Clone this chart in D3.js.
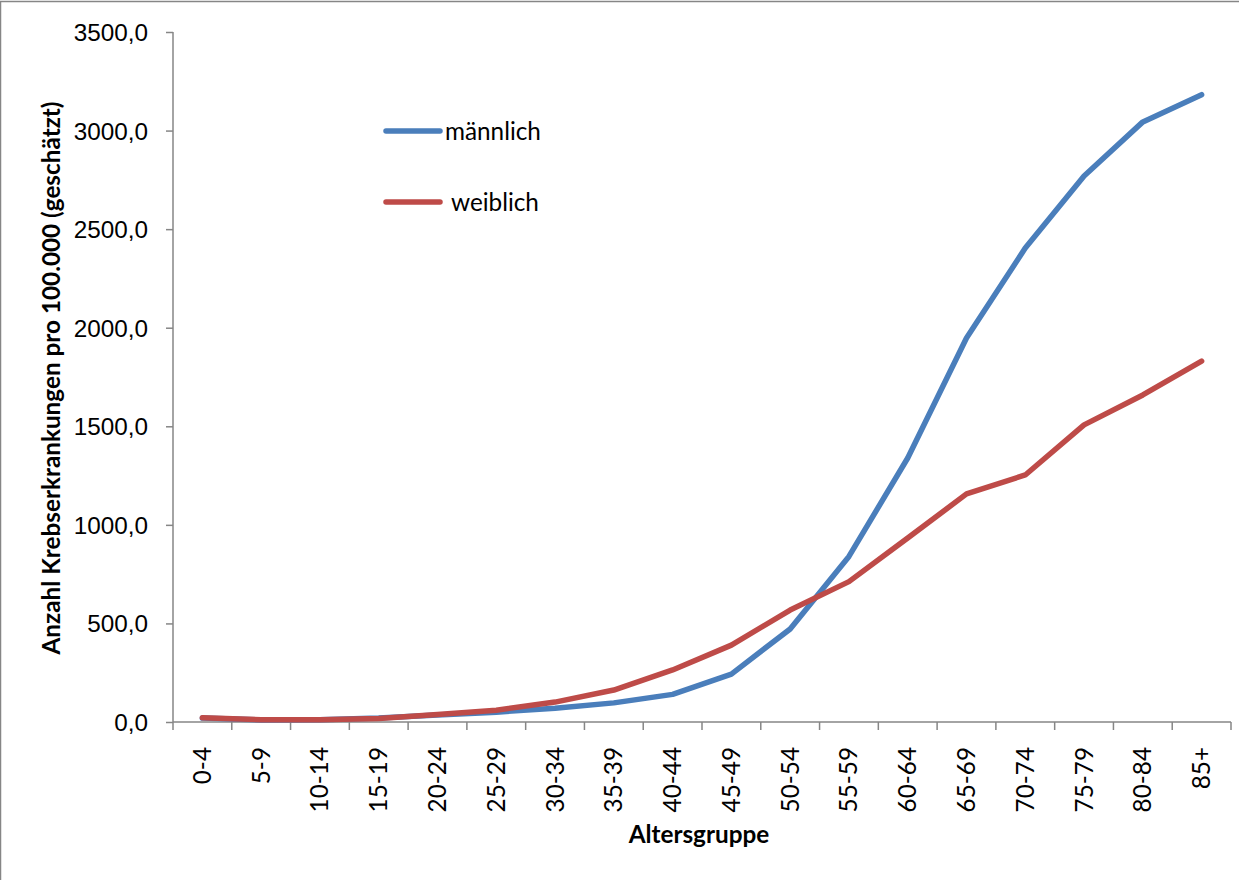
<!DOCTYPE html>
<html>
<head>
<meta charset="utf-8">
<script src="https://cdn.jsdelivr.net/npm/d3@7"></script>
<style>
  html, body { margin: 0; padding: 0; background: #fff; }
  svg { display: block; font-family: Lato, "Open Sans", sans-serif; }
</style>
</head>
<body>
<svg id="chart" width="1239" height="880"></svg>
<script>
// Altersgruppen (x-Achse)
const altersgruppen = ["0-4","5-9","10-14","15-19","20-24","25-29","30-34","35-39","40-44",
  "45-49","50-54","55-59","60-64","65-69","70-74","75-79","80-84","85+"];

// Geschätzte Krebserkrankungen pro 100.000
const maennlich = [20, 10, 12, 20, 35, 50, 70, 97, 140, 243, 472, 840, 1339, 1948, 2404, 2770, 3044, 3182];
const weiblich  = [22, 12, 12, 18, 38, 60, 101, 162, 264, 390, 568, 712, 933, 1157, 1253, 1507, 1659, 1831];

// y-Achse
const yTicks = [0, 500, 1000, 1500, 2000, 2500, 3000, 3500];

const series = [
  { name: "männlich", values: maennlich, color: "#4a7ebb" },
  { name: "weiblich", values: weiblich, color: "#be4b48" }
];

const svg = d3.select("#chart");
const W = 1239, H = 880;
const plot = { left: 173, right: 1231, top: 32, bottom: 722 };
const axisColor = "#868686";
const labelSize = "24.3px";
const titleSize = "24.3px";

// Rahmen (links und oben sichtbar)
svg.append("rect")
  .attr("x", 0.5).attr("y", 1.5)
  .attr("width", W + 10).attr("height", H + 10)
  .attr("fill", "none").attr("stroke", axisColor).attr("stroke-width", 1.5);

const x = d3.scaleBand().domain(altersgruppen).range([plot.left, plot.right]).padding(0);
const y = d3.scaleLinear().domain([0, 3500]).range([plot.bottom, plot.top]);
const fmt = v => d3.format(".1f")(v).replace(".", ",");

// y-Achse
const yAxis = svg.append("g")
  .attr("transform", `translate(${plot.left},0)`)
  .call(d3.axisLeft(y).tickValues(yTicks).tickFormat(fmt).tickSize(7).tickPadding(18));
yAxis.select(".domain").attr("stroke", axisColor).attr("stroke-width", 1.5)
  .attr("d", `M0,${plot.top}V${plot.bottom}`);
yAxis.selectAll(".tick line").attr("stroke", axisColor).attr("stroke-width", 1.5);
yAxis.selectAll(".tick text").attr("fill", "#000").style("font-size", labelSize)
  .attr("dy", "0.35em");

// x-Achse mit Teilstrichen an den Kategoriegrenzen
const xg = svg.append("g").attr("transform", `translate(0,${plot.bottom})`);
xg.append("line")
  .attr("x1", plot.left).attr("x2", plot.right)
  .attr("stroke", axisColor).attr("stroke-width", 1.5);
const boundaries = altersgruppen.map(d => x(d)).concat([x(altersgruppen[altersgruppen.length - 1]) + x.bandwidth()]);
xg.selectAll("line.tk").data(boundaries).join("line")
  .attr("class", "tk")
  .attr("x1", d => d).attr("x2", d => d)
  .attr("y1", 0).attr("y2", 8)
  .attr("stroke", axisColor).attr("stroke-width", 1.5);
xg.selectAll("text.lbl").data(altersgruppen).join("text")
  .attr("class", "lbl")
  .attr("transform", d => `translate(${x(d) + x.bandwidth() / 2},25) rotate(-90)`)
  .attr("text-anchor", "end")
  .attr("dy", "0.35em")
  .style("font-size", labelSize)
  .text(d => d);

// Achsentitel
svg.append("text")
  .attr("transform", `translate(60,378) rotate(-90)`)
  .attr("text-anchor", "middle")
  .style("font-size", titleSize).style("font-weight", "bold")
  .text("Anzahl Krebserkrankungen pro 100.000 (geschätzt)");

svg.append("text")
  .attr("x", 699).attr("y", 843)
  .attr("text-anchor", "middle")
  .style("font-size", titleSize).style("font-weight", "bold")
  .text("Altersgruppe");

// Linien
const line = d3.line()
  .x((d, i) => x(altersgruppen[i]) + x.bandwidth() / 2)
  .y(d => y(d));

svg.selectAll("path.series").data(series).join("path")
  .attr("class", "series")
  .attr("d", d => line(d.values))
  .attr("fill", "none")
  .attr("stroke", d => d.color)
  .attr("stroke-width", 5.5)
  .attr("stroke-linejoin", "round")
  .attr("stroke-linecap", "round");

// Legende
const legend = [
  { s: series[0], ly: 131, tx: 445 },
  { s: series[1], ly: 202, tx: 451 }
];
legend.forEach(l => {
  svg.append("line")
    .attr("x1", 386).attr("x2", 440)
    .attr("y1", l.ly).attr("y2", l.ly)
    .attr("stroke", l.s.color).attr("stroke-width", 5.5)
    .attr("stroke-linecap", "round");
  svg.append("text")
    .attr("x", l.tx).attr("y", l.ly)
    .attr("dy", "0.35em")
    .style("font-size", labelSize)
    .text(l.s.name);
});
</script>
</body>
</html>
